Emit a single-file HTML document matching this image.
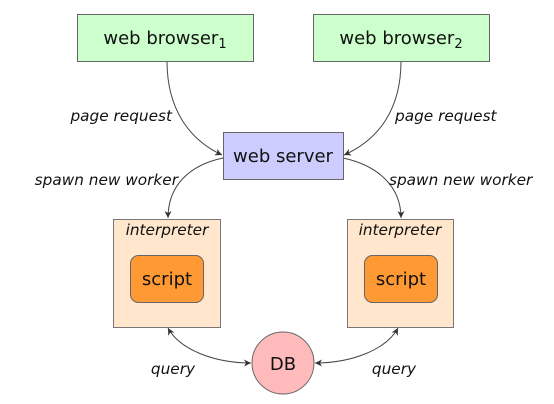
<!DOCTYPE html>
<html><head><style>
html,body{margin:0;padding:0;background:#fff;}
svg{display:block;}
text{font-family:"DejaVu Sans","Liberation Sans",sans-serif;fill:#111;}
.n{font-size:18px;}
.l{font-size:15.3px;font-style:italic;}
</style></head><body>
<svg width="554" height="404" viewBox="0 0 554 404" xmlns="http://www.w3.org/2000/svg">
<defs>
<marker id="a" markerWidth="8" markerHeight="8" refX="7" refY="4" orient="auto" markerUnits="userSpaceOnUse">
<path d="M0,0.5 L7,4 L0,7.5 L2,4 Z" fill="#333"/></marker>
<marker id="s" markerWidth="8" markerHeight="8" refX="1" refY="4" orient="auto" markerUnits="userSpaceOnUse">
<path d="M8,0.5 L1,4 L8,7.5 L6,4 Z" fill="#333"/></marker>
</defs>
<g fill="none" stroke="#444" stroke-width="1">
<path d="M167,61 C167,110 190,140 222,155" marker-end="url(#a)"/>
<path d="M401,61 C401,110 378,140 344,155" marker-end="url(#a)"/>
<path d="M223,158 C190,165 168,185 168,218" marker-end="url(#a)"/>
<path d="M343,158 C376,165 401,185 401,218" marker-end="url(#a)"/>
<path d="M168,328 C180,350 215,363 251,363" marker-start="url(#s)" marker-end="url(#a)"/>
<path d="M398,328 C386,350 351,363 315,363" marker-start="url(#s)" marker-end="url(#a)"/>
</g>
<rect x="77.5" y="14.5" width="176" height="47" fill="#ccffcc" stroke="#666"/>
<text class="n" x="165" y="44" text-anchor="middle">web browser<tspan font-size="13" dy="4">1</tspan></text>
<rect x="313.5" y="14.5" width="176" height="47" fill="#ccffcc" stroke="#666"/>
<text class="n" x="401" y="44" text-anchor="middle">web browser<tspan font-size="13" dy="4">2</tspan></text>
<rect x="223.5" y="132.5" width="120" height="47" fill="#ccccff" stroke="#666"/>
<text class="n" x="283" y="162" text-anchor="middle">web server</text>
<rect x="113.5" y="219.5" width="107" height="108" fill="#ffe6cc" stroke="#777"/>
<text class="l" x="167" y="235" text-anchor="middle">interpreter</text>
<rect x="130.5" y="255.5" width="73" height="47" rx="8" fill="#ff9933" stroke="#666"/>
<text class="n" x="167" y="285" text-anchor="middle">script</text>
<rect x="347.5" y="219.5" width="106" height="108" fill="#ffe6cc" stroke="#777"/>
<text class="l" x="400" y="235" text-anchor="middle">interpreter</text>
<rect x="364.5" y="255.5" width="73" height="47" rx="8" fill="#ff9933" stroke="#666"/>
<text class="n" x="401" y="285" text-anchor="middle">script</text>
<circle cx="283" cy="363" r="31" fill="#ffbbbb" stroke="#666"/>
<text class="n" x="283" y="370" text-anchor="middle">DB</text>
<text class="l" x="172" y="121" text-anchor="end">page request</text>
<text class="l" x="395" y="121">page request</text>
<text class="l" x="178" y="185" text-anchor="end">spawn new worker</text>
<text class="l" x="389" y="185">spawn new worker</text>
<text class="l" x="173" y="374" text-anchor="middle">query</text>
<text class="l" x="394" y="374" text-anchor="middle">query</text>
</svg>
</body></html>
